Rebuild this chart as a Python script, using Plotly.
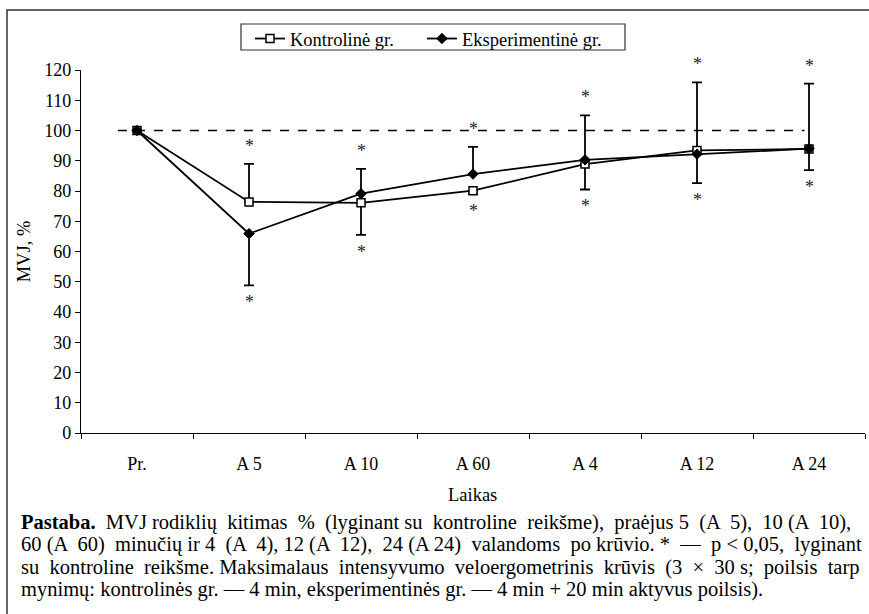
import plotly.graph_objects as go

categories = ["Pr.", "A 5", "A 10", "A 60", "A 4", "A 12", "A 24"]

kontrol = [100, 76.4, 76.1, 80.1, 88.9, 93.4, 93.9]
kontrol_plus = [0, 12.6, 0, 0, 0, 22.5, 21.6]
kontrol_minus = [0, 0, 10.6, 1.0, 8.4, 0, 0]

eksper = [100, 65.9, 79.1, 85.6, 90.3, 92.2, 94.0]
eksper_plus = [0, 0, 8.2, 9.0, 14.7, 0, 0]
eksper_minus = [0, 17.1, 0, 0, 0, 9.6, 7.1]

significant = [False, True, True, True, True, True, True]

y_ticks = list(range(0, 121, 10))

legend_names = ["Kontrolinė gr.", "Eksperimentinė gr."]

caption_lines = [
    "<b>Pastaba.</b> MVJ rodiklių kitimas % (lyginant su kontroline reikšme), praėjus 5 (A 5), 10 (A 10),",
    "60 (A 60) minučių ir 4 (A 4), 12 (A 12), 24 (A 24) valandoms po krūvio. * — p < 0,05, lyginant",
    "su kontroline reikšme. Maksimalaus intensyvumo veloergometrinis krūvis (3 × 30 s; poilsis tarp",
    "mynimų: kontrolinės gr. — 4 min, eksperimentinės gr. — 4 min + 20 min aktyvus poilsis).",
]
# extra non-breaking spaces per line to imitate justified text
caption_extra_spaces = [11, 11, 10, 0]

FONT = "Liberation Serif, Times New Roman, serif"
W, H = 869, 614
ML, MR, MT, MB = 81, 4, 70, 181
NB = "\u00a0"

def justify(line, extra):
    parts = line.split(" ")
    gaps = len(parts) - 1
    if extra <= 0 or gaps <= 0:
        return line
    out = parts[0]
    given = 0
    for g in range(gaps):
        target = round((g + 1) * extra / gaps)
        add = target - given
        given = target
        out += " " + NB * add + parts[g + 1]
    return out

fig = go.Figure()

fig.add_trace(go.Scatter(
    x=categories, y=kontrol, name=legend_names[0] + NB * 5, mode="lines+markers",
    line=dict(color="black", width=1.8),
    marker=dict(symbol="square", size=8, color="white", line=dict(color="black", width=1.5)),
    error_y=dict(type="data", symmetric=False, array=kontrol_plus, arrayminus=kontrol_minus,
                 color="black", thickness=1.8, width=5),
))
fig.add_trace(go.Scatter(
    x=categories, y=eksper, name=legend_names[1], mode="lines+markers",
    line=dict(color="black", width=1.8),
    marker=dict(symbol="diamond", size=8, color="black", line=dict(color="black", width=1)),
    error_y=dict(type="data", symmetric=False, array=eksper_plus, arrayminus=eksper_minus,
                 color="black", thickness=1.8, width=5),
))

# reference line at 100 %
fig.add_shape(type="line", xref="x", yref="y", x0=-0.17, x1=5.96, y0=100, y1=100,
              line=dict(color="black", width=1.5, dash="dash"))

# significance asterisks at error-bar ends
for i, cat in enumerate(categories):
    if not significant[i]:
        continue
    top = max(kontrol[i] + kontrol_plus[i], eksper[i] + eksper_plus[i])
    bot = min(kontrol[i] - kontrol_minus[i], eksper[i] - eksper_minus[i])
    fig.add_annotation(x=cat, y=top, text="*", showarrow=False, yshift=18,
                       font=dict(family=FONT, size=18, color="#222"))
    fig.add_annotation(x=cat, y=bot, text="*", showarrow=False, yshift=-17,
                       font=dict(family=FONT, size=18, color="#222"))

pw = W - ML - MR
ph = H - MT - MB
def px(xp):
    return (xp - ML) / pw
def py(yp):
    return (H - MB - yp) / ph

# frame around whole figure (left and top edges visible)
fig.add_shape(type="path", xref="paper", yref="paper",
              path=f"M {px(7)} {py(640)} L {px(7)} {py(10)} L {px(880)} {py(10)}",
              line=dict(color="#333", width=1.5))

# legend box
fig.add_shape(type="rect", xref="paper", yref="paper",
              x0=px(241), x1=px(625), y0=py(50), y1=py(24),
              line=dict(color="#333", width=1.2), fillcolor="white", layer="below")

for k, line in enumerate(caption_lines):
    fig.add_annotation(xref="paper", yref="paper", x=px(19), y=py(522 + 22.6 * k),
                       xanchor="left", yanchor="middle",
                       text=justify(line, caption_extra_spaces[k]), showarrow=False,
                       font=dict(family=FONT, size=20.5, color="black"))

fig.add_annotation(xref="paper", yref="paper", x=px(472), y=py(495), text="Laikas",
                   showarrow=False, xanchor="center", yanchor="middle",
                   font=dict(family=FONT, size=18.5, color="black"))

fig.update_layout(
    width=W, height=H,
    margin=dict(l=ML, r=MR, t=MT, b=MB),
    paper_bgcolor="white", plot_bgcolor="white",
    font=dict(family=FONT, size=18, color="black"),
    showlegend=True,
    legend=dict(orientation="h", x=px(250), xanchor="left", y=py(20), yanchor="top",
                borderwidth=0, bgcolor="rgba(0,0,0,0)",
                font=dict(family=FONT, size=18.5), itemwidth=30,
                tracegroupgap=0),
    xaxis=dict(type="category", categoryorder="array", categoryarray=categories,
               range=[-0.5, 6.5], tickson="boundaries", ticks="outside", ticklen=5,
               tickcolor="black", showline=True, linecolor="black", linewidth=1.2,
               showgrid=False, zeroline=False, tickfont=dict(family=FONT, size=18),
               ticklabelstandoff=14),
    yaxis=dict(range=[0, 120], tickvals=y_ticks, ticks="outside", ticklen=5,
               tickcolor="black", showline=True, linecolor="black", linewidth=1.2,
               showgrid=False, zeroline=False, tickfont=dict(family=FONT, size=18),
               title=dict(text="MVJ, %", font=dict(family=FONT, size=18.5), standoff=8)),
)

fig.write_html("out.html", config={"displayModeBar": False},
               post_script="document.body.style.margin='0px';")
